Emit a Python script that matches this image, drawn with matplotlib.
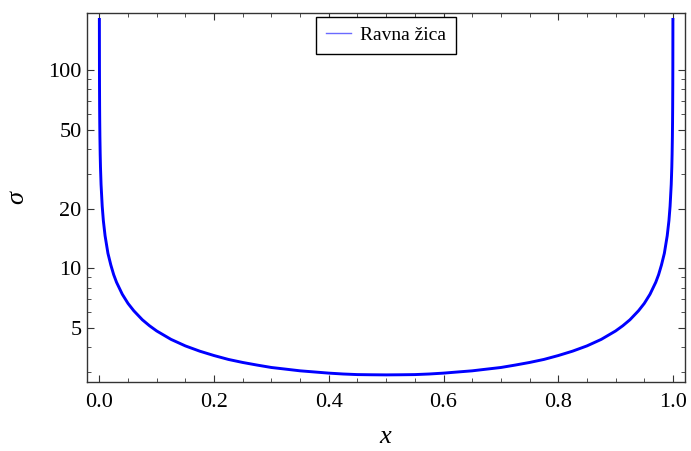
import matplotlib
matplotlib.use("Agg")
import matplotlib.pyplot as plt
from matplotlib.ticker import LogLocator, FixedLocator, NullFormatter, MultipleLocator

# values
x_vals = [0.00007, 0.0002, 0.0003, 0.0005, 0.0007, 0.001, 0.0015, 0.002, 0.003, 0.005,
          0.007, 0.01, 0.015, 0.02, 0.025, 0.03, 0.04, 0.05, 0.06, 0.075,
          0.0875, 0.1, 0.125, 0.15, 0.175, 0.2, 0.225, 0.25, 0.275, 0.3,
          0.325, 0.35, 0.375, 0.4, 0.425, 0.45, 0.475, 0.5,
          0.525, 0.55, 0.575, 0.6, 0.625, 0.65, 0.675, 0.7, 0.725, 0.75,
          0.775, 0.8, 0.825, 0.85, 0.875, 0.9, 0.9125, 0.925, 0.94, 0.95,
          0.96, 0.97, 0.975, 0.98, 0.985, 0.99, 0.993, 0.995, 0.997, 0.998,
          0.9985, 0.999, 0.9993, 0.9995, 0.9997, 0.9998, 0.99993]
sigma_vals = [180, 102.5, 83.7, 64.9, 54.8, 45.9, 37.5, 32.4, 26.5, 20.6,
              17.4, 14.6, 11.9, 10.4, 9.29, 8.5, 7.40, 6.65, 6.11, 5.5,
              5.13, 4.83, 4.38, 4.06, 3.82, 3.63, 3.47, 3.35, 3.25, 3.16,
              3.10, 3.04, 3.00, 2.96, 2.93, 2.91, 2.904, 2.90,
              2.904, 2.91, 2.93, 2.96, 3.00, 3.04, 3.10, 3.16, 3.25, 3.35,
              3.47, 3.63, 3.82, 4.06, 4.38, 4.83, 5.13, 5.5, 6.11, 6.65,
              7.40, 8.5, 9.29, 10.4, 11.9, 14.6, 17.4, 20.6, 26.5, 32.4,
              37.5, 45.9, 54.8, 64.9, 83.7, 102.5, 180]
series_label = "Ravna žica"
y_ticks = [5, 10, 20, 50, 100]
x_ticks = [0.0, 0.2, 0.4, 0.6, 0.8, 1.0]

plt.rcParams['font.family'] = ['Liberation Serif', 'DejaVu Serif']
plt.rcParams['mathtext.fontset'] = 'custom'
plt.rcParams['mathtext.it'] = 'Liberation Serif:italic'
plt.rcParams['mathtext.rm'] = 'Liberation Serif'

fig = plt.figure(figsize=(6.91, 4.51), dpi=100)
ax = fig.add_axes([87/691, 1 - 382/451, (685-87)/691, (382-13)/451])

ax.plot(x_vals, sigma_vals, color='#0000ff', lw=2.1, label=series_label,
        solid_joinstyle='round')
ax.set_yscale('log')
ax.set_xlim(-0.0215, 1.021)
ax.set_ylim(2.67, 194)

ax.yaxis.set_major_locator(FixedLocator(y_ticks))
ax.set_yticklabels([str(t) for t in y_ticks])
ax.yaxis.set_minor_locator(LogLocator(base=10, subs=range(1, 10)))
ax.yaxis.set_minor_formatter(NullFormatter())
ax.xaxis.set_major_locator(FixedLocator(x_ticks))
ax.set_xticklabels([f"{t:.1f}" for t in x_ticks])
ax.xaxis.set_minor_locator(MultipleLocator(0.05))

ax.tick_params(which='both', direction='in', top=True, right=True, labelsize=16, color='#333333')
ax.tick_params(which='major', length=5, width=0.8)
ax.tick_params(which='minor', length=3, width=0.6)
ax.tick_params(axis='x', which='major', pad=8)
ax.tick_params(axis='y', which='major', pad=4)
for s in ax.spines.values():
    s.set_linewidth(1.0)
    s.set_color('#333333')

ax.set_xlabel('$x$', fontsize=19, labelpad=10)
ax.set_ylabel(r'$\sigma$', fontsize=19, labelpad=14)

leg = ax.legend(loc='upper center', bbox_to_anchor=(0.5, 1.0), fontsize=14, frameon=True,
                fancybox=False, edgecolor='black', handlelength=1.3, handletextpad=0.5,
                borderpad=0.5, borderaxespad=0.2, framealpha=1)
leg.get_frame().set_linewidth(1.0)
for h in leg.get_lines():
    h.set_linewidth(1.0)
    h.set_color('#6a6aff')

fig.savefig('out.png', dpi=100)
